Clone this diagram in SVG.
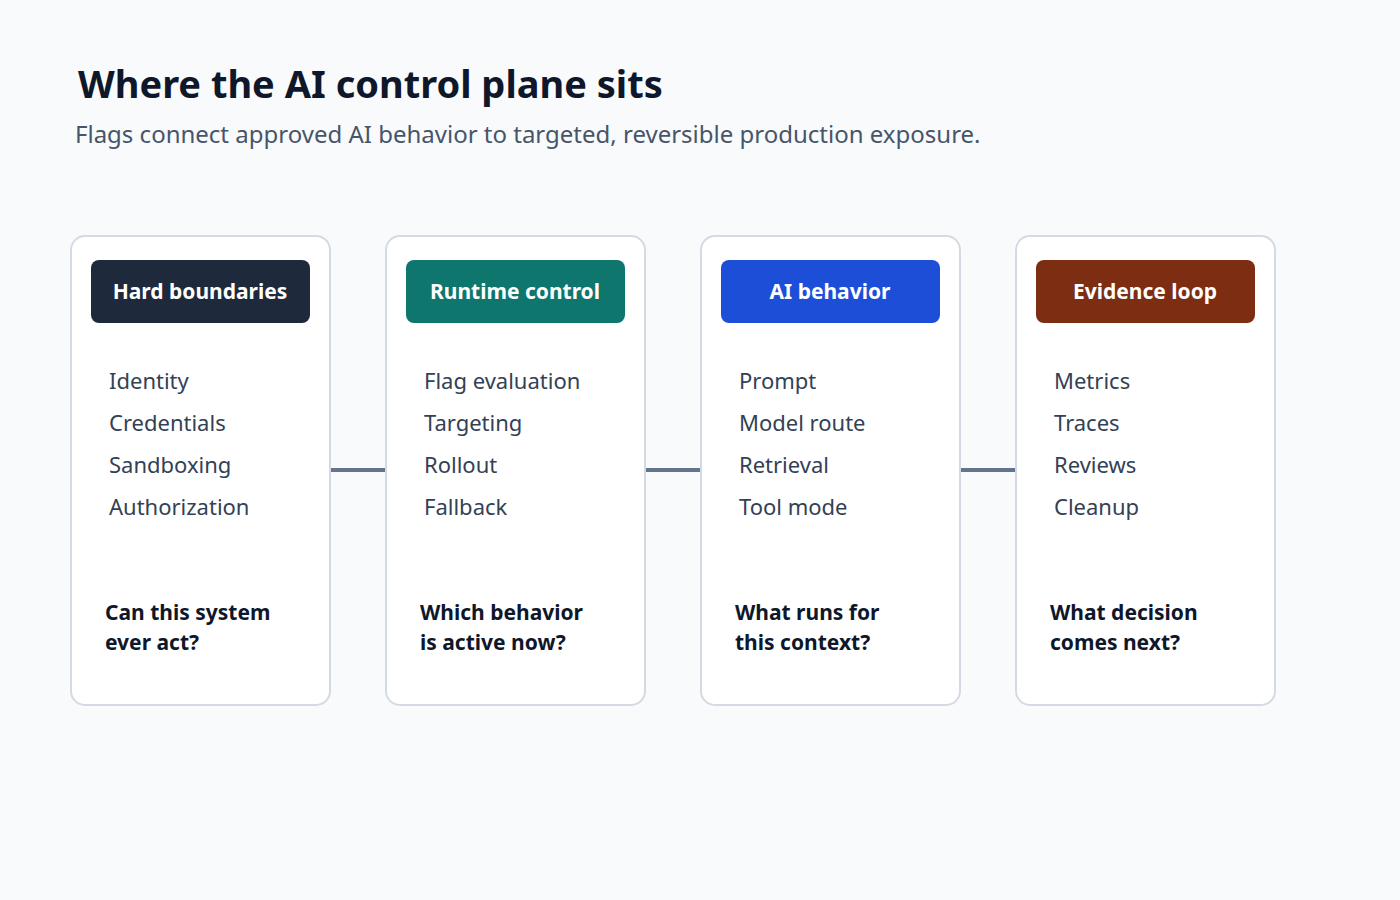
<svg xmlns="http://www.w3.org/2000/svg" width="1400" height="900" viewBox="0 0 1400 900">
<style>
.card{fill:#ffffff;stroke:#d4dae4;stroke-width:2}
.hd{font-family:"Noto Sans","Open Sans",sans-serif;font-size:21px;font-weight:700;fill:#ffffff;text-anchor:middle}
.it{font-family:"Noto Sans","Open Sans",sans-serif;font-size:22px;fill:#334155}
.q{font-family:"Noto Sans","Open Sans",sans-serif;font-size:21px;font-weight:700;fill:#0f172a}
.cn{stroke:#64748b;stroke-width:4;fill:none}
</style>
<rect width="1400" height="900" fill="#f8fafc"/>
<text x="78" y="98" font-family="Noto Sans, Open Sans, sans-serif" font-size="38" font-weight="700" fill="#0f172a">Where the AI control plane sits</text>
<text x="75" y="143" font-family="Noto Sans, Open Sans, sans-serif" font-size="24" fill="#475569">Flags connect approved AI behavior to targeted, reversible production exposure.</text>
<g id="connectors">
<line class="cn" x1="330" y1="470" x2="388" y2="470"/>
<line class="cn" x1="645" y1="470" x2="703" y2="470"/>
<line class="cn" x1="960" y1="470" x2="1018" y2="470"/>
</g>
<g id="n1">
<rect class="card" x="71" y="236" width="259" height="469" rx="14"/>
<rect x="91" y="260" width="219" height="63" rx="8" fill="#1e293b"/>
<text class="hd" x="200" y="299">Hard boundaries</text>
<text class="it" x="109" y="389">Identity</text>
<text class="it" x="109" y="431">Credentials</text>
<text class="it" x="109" y="473">Sandboxing</text>
<text class="it" x="109" y="515">Authorization</text>
<text class="q" x="105" y="620">Can this system</text>
<text class="q" x="105" y="650">ever act?</text>
</g>
<g id="n2">
<rect class="card" x="386" y="236" width="259" height="469" rx="14"/>
<rect x="406" y="260" width="219" height="63" rx="8" fill="#0f766e"/>
<text class="hd" x="515" y="299">Runtime control</text>
<text class="it" x="424" y="389">Flag evaluation</text>
<text class="it" x="424" y="431">Targeting</text>
<text class="it" x="424" y="473">Rollout</text>
<text class="it" x="424" y="515">Fallback</text>
<text class="q" x="420" y="620">Which behavior</text>
<text class="q" x="420" y="650">is active now?</text>
</g>
<g id="n3">
<rect class="card" x="701" y="236" width="259" height="469" rx="14"/>
<rect x="721" y="260" width="219" height="63" rx="8" fill="#1d4ed8"/>
<text class="hd" x="830" y="299">AI behavior</text>
<text class="it" x="739" y="389">Prompt</text>
<text class="it" x="739" y="431">Model route</text>
<text class="it" x="739" y="473">Retrieval</text>
<text class="it" x="739" y="515">Tool mode</text>
<text class="q" x="735" y="620">What runs for</text>
<text class="q" x="735" y="650">this context?</text>
</g>
<g id="n4">
<rect class="card" x="1016" y="236" width="259" height="469" rx="14"/>
<rect x="1036" y="260" width="219" height="63" rx="8" fill="#7c2d12"/>
<text class="hd" x="1145" y="299">Evidence loop</text>
<text class="it" x="1054" y="389">Metrics</text>
<text class="it" x="1054" y="431">Traces</text>
<text class="it" x="1054" y="473">Reviews</text>
<text class="it" x="1054" y="515">Cleanup</text>
<text class="q" x="1050" y="620">What decision</text>
<text class="q" x="1050" y="650">comes next?</text>
</g>
</svg>
